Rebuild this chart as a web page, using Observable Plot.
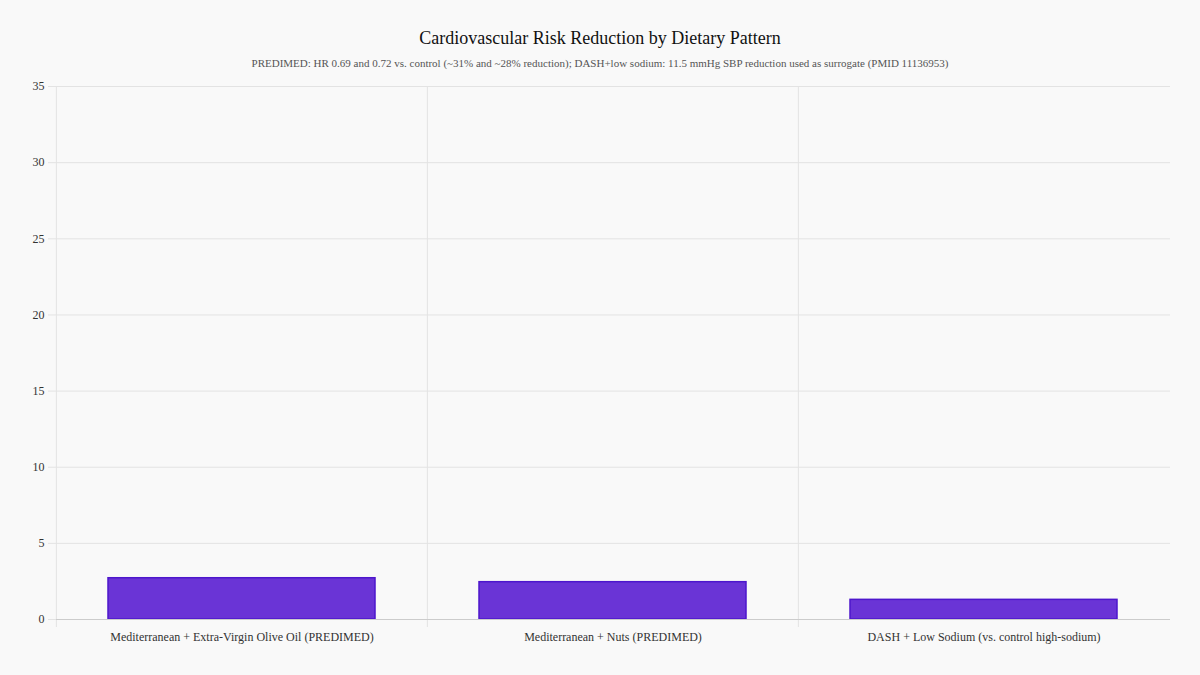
<!DOCTYPE html>
<html>
<head>
<meta charset="utf-8">
<script src="https://cdn.jsdelivr.net/npm/d3@7"></script>
<script src="https://cdn.jsdelivr.net/npm/@observablehq/plot@0.6"></script>
<style>
  html, body { margin: 0; padding: 0; background: #f9f9f9; }
  #wrap { position: relative; width: 1200px; height: 675px; font-family: "Liberation Serif", "Times New Roman", serif; }
  #title { position: absolute; top: 28px; left: 0; width: 1200px; text-align: center; font-size: 18px; color: #111; }
  #subtitle { position: absolute; top: 57px; left: 0; width: 1200px; text-align: center; font-size: 11px; color: #555; }
  #chart { position: absolute; top: 0; left: 0; }
</style>
</head>
<body>
<div id="wrap">
  <div id="title">Cardiovascular Risk Reduction by Dietary Pattern</div>
  <div id="subtitle">PREDIMED: HR 0.69 and 0.72 vs. control (~31% and ~28% reduction); DASH+low sodium: 11.5 mmHg SBP reduction used as surrogate (PMID 11136953)</div>
  <div id="chart"></div>
</div>
<script>
const categories = [
  "Mediterranean + Extra-Virgin Olive Oil (PREDIMED)",
  "Mediterranean + Nuts (PREDIMED)",
  "DASH + Low Sodium (vs. control high-sodium)"
];
const values = [2.71, 2.45, 1.29];
const yTicks = [0, 5, 10, 15, 20, 25, 30, 35];

const data = categories.map((c, i) => ({ category: c, value: values[i] }));

const width = 1200, height = 675;
const marginLeft = 56, marginRight = 30, marginTop = 86, marginBottom = 56;
const step = (width - marginLeft - marginRight) / categories.length;

const chart = Plot.plot({
  width, height, marginLeft, marginRight, marginTop, marginBottom,
  style: { background: "transparent", fontFamily: "'Liberation Serif', 'Times New Roman', serif", fontSize: "12px", color: "#333" },
  x: { domain: categories, paddingInner: 0.28, paddingOuter: 0.14, label: null },
  y: { domain: [0, 35], label: null },
  marks: [
    Plot.ruleY(yTicks, { stroke: "#e3e3e3", strokeWidth: 1 }),
    Plot.ruleX(categories, { x: d => d, dx: -step / 2, stroke: "#e3e3e3", strokeWidth: 1, insetBottom: -8 }),
    Plot.barY(data, { x: "category", y: "value", fill: "#6a34d6", stroke: "#4d16cc", strokeWidth: 1.5 }),
    Plot.ruleY([0], { stroke: "#cccccc", strokeWidth: 1 }),
    Plot.axisY({ ticks: yTicks, tickSize: 8, tickPadding: 4, stroke: "#e3e3e3", fill: "#333", fontSize: 12 }),
    Plot.axisX({ tickSize: 0, tickPadding: 13, fill: "#333", fontSize: 12 })
  ]
});
document.getElementById("chart").appendChild(chart);
</script>
</body>
</html>
